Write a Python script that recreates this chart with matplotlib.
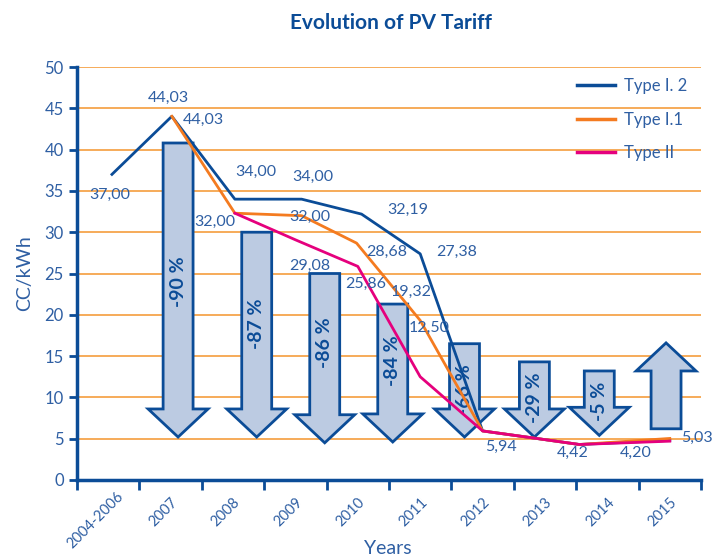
import matplotlib
matplotlib.use("Agg")
import matplotlib.pyplot as plt
from matplotlib.patches import FancyArrow
from matplotlib.ticker import FixedLocator
from matplotlib.transforms import ScaledTranslation

categories = ["2004-2006", "2007", "2008", "2009", "2010",
              "2011", "2012", "2013", "2014", "2015"]

# line series (x = category position, y = c/kWh)
type_i2_x = [0.06, 1.02, 2.03, 3.1, 4.06, 5.0, 6.0, 6.8, 7.55, 9.0]
type_i2_y = [37.0, 44.03, 34.0, 34.0, 32.19, 27.38, 5.94, 5.1, 4.3, 4.8]
type_i1_x = [1.02, 2.03, 3.1, 3.98, 5.0, 6.0, 6.8, 7.55, 9.0]
type_i1_y = [44.03, 32.3, 32.0, 28.68, 19.32, 5.94, 5.1, 4.3, 5.03]
type_ii_x = [2.03, 3.0, 4.0, 5.0, 6.0, 6.8, 7.55, 9.0]
type_ii_y = [32.3, 29.08, 25.86, 12.5, 5.94, 5.1, 4.3, 4.7]

# value labels
value_text = ["37,00", "44,03", "44,03", "34,00", "34,00", "32,00", "32,00",
              "29,08", "25,86", "32,19", "28,68", "27,38", "19,32", "12,50",
              "5,94", "4,42", "4,20", "5,03"]
value_x = [0.03, 0.96, 1.52, 2.37, 3.28, 1.71, 3.23, 3.23, 4.12, 4.8,
           4.46, 5.58, 4.85, 5.15, 6.29, 7.44, 8.45, 9.44]
value_y = [34.5, 46.3, 43.6, 37.3, 36.7, 31.2, 31.8, 25.9, 23.8, 32.7,
           27.6, 27.6, 22.8, 18.4, 4.0, 3.3, 3.3, 5.1]

# block arrows showing the change vs. year
arrow_x = [1.12, 2.38, 3.47, 4.56, 5.71, 6.83, 7.87, 8.94]
arrow_from = [40.8, 30.0, 25.0, 21.3, 16.5, 14.3, 13.2, 6.2]
arrow_to = [5.2, 5.2, 4.5, 4.6, 5.2, 5.2, 5.4, 16.6]
arrow_text = ["-90 %", "-87 %", "-86 %", "-84 %", "-66 %", "-29 %", "-5 %"]
arrow_text_y = [24.0, 18.9, 16.6, 14.5, 10.9, 10.0, 9.5]

DARK = "#0b4c97"
TXT = "#2f5fa3"
ORANGE = "#f47b20"
PINK = "#e5007d"
GRID = "#f6a54c"
FILL = "#bccbe2"

plt.rcParams["font.family"] = ["Lato", "DejaVu Sans"]

fig = plt.figure(figsize=(7.14, 5.58), dpi=100)
ax = fig.add_axes([77 / 714, 1 - 480 / 558, 624 / 714, 413 / 558])
ax.set_xlim(-0.5, 9.5)
ax.set_ylim(0, 50)

for v in range(5, 55, 5):
    ax.axhline(v, color=GRID, lw=1.3, zorder=0.5)

for x, y0, y1 in zip(arrow_x, arrow_from, arrow_to):
    ax.add_patch(FancyArrow(x, y0, 0, y1 - y0, width=0.48, head_width=0.96,
                            head_length=3.4, length_includes_head=True,
                            facecolor=FILL, edgecolor=DARK, lw=2.0,
                            joinstyle="miter", zorder=2))

for x, y, t in zip(arrow_x, arrow_text_y, arrow_text):
    ax.text(x, y, t, rotation=90, ha="center", va="center", fontsize=14,
            fontweight="bold", color=DARK, zorder=2.5)

ax.plot(type_i2_x, type_i2_y, color=DARK, lw=2.0, zorder=3, label="Type I. 2")
ax.plot(type_i1_x, type_i1_y, color=ORANGE, lw=2.0, zorder=3.1, label="Type I.1")
ax.plot(type_ii_x, type_ii_y, color=PINK, lw=2.0, zorder=3.2, label="Type II")

for x, y, t in zip(value_x, value_y, value_text):
    ax.text(x, y, t, ha="center", va="center", fontsize=11.5, color=TXT, zorder=4)

for s in ["top", "right"]:
    ax.spines[s].set_visible(False)
for s in ["left", "bottom"]:
    ax.spines[s].set_color(DARK)
    ax.spines[s].set_linewidth(2.5)

ax.set_yticks(range(0, 55, 5))
ax.tick_params(axis="y", colors=DARK, labelcolor=TXT, labelsize=12,
               width=2, length=6)
ax.set_xticks(range(len(categories)))
ax.set_xticklabels(categories, rotation=45, ha="right", va="top",
                   rotation_mode="anchor", fontsize=10.5, color=TXT)
ax.tick_params(axis="x", which="major", length=0, pad=11)
ax.xaxis.set_minor_locator(FixedLocator([i - 0.5 for i in range(len(categories) + 1)]))
ax.tick_params(axis="x", which="minor", colors=DARK, width=2, length=7)
# nudge the first (long) label right so it stays inside the picture
first = ax.get_xticklabels()[0]
first.set_transform(first.get_transform() + ScaledTranslation(6 / 72, 4 / 72, fig.dpi_scale_trans))

ax.set_ylabel("CC/kWh", fontsize=14, color=TXT, labelpad=8)
fig.text(388 / 714, 1 - 548 / 558, "Years", ha="center", va="center",
         fontsize=14, color=TXT)
fig.text(391 / 714, 1 - 23 / 558, "Evolution of PV Tariff", ha="center",
         va="center", fontsize=15, fontweight="bold", color=DARK)

leg = ax.legend(loc="upper left", bbox_to_anchor=(577 / 714, 1 - 78 / 558),
                bbox_transform=fig.transFigure, frameon=False, fontsize=12,
                handlelength=2.3, labelspacing=1.05, borderpad=0,
                borderaxespad=0, handletextpad=0.5)
for txt in leg.get_texts():
    txt.set_color(TXT)
for line in leg.get_lines():
    line.set_linewidth(2.5)

fig.savefig("out.png", dpi=100)
